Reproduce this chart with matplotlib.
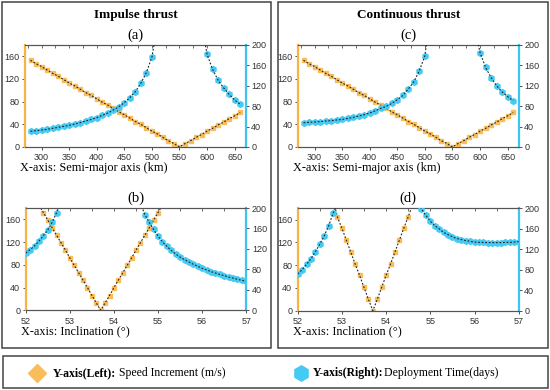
import matplotlib
matplotlib.use("Agg")
import matplotlib.pyplot as plt
from matplotlib.patches import Rectangle
from matplotlib.lines import Line2D
from matplotlib.ticker import MultipleLocator
import numpy as np

# --- data ---
sma_km = [280, 290, 300, 310, 320, 330, 340, 350, 360, 370, 380, 390, 400,
          410, 420, 430, 440, 450, 460, 470, 480, 490, 500, 510, 520, 530,
          540, 550, 560, 570, 580, 590, 600, 610, 620, 630, 640, 650, 660]

incl_deg = [52.0, 52.1, 52.2, 52.3, 52.4, 52.5, 52.6, 52.7, 52.8, 52.9,
            53.0, 53.1, 53.2, 53.3, 53.4, 53.5, 53.6, 53.7, 53.8, 53.9,
            54.0, 54.1, 54.2, 54.3, 54.4, 54.5, 54.6, 54.7, 54.8, 54.9,
            55.0, 55.1, 55.2, 55.3, 55.4, 55.5, 55.6, 55.7, 55.8, 55.9,
            56.0, 56.1, 56.2, 56.3, 56.4, 56.5, 56.6, 56.7, 56.8, 56.9, 57.0]

N = None

# (a) impulse thrust vs semi-major axis
a_dv = [153, 147, 142, 136, 130, 125, 119, 113, 108, 102, 96, 91, 85,
        79, 74, 68, 62, 57, 51, 45, 40, 34, 28, 23, 17, 11,
        6, 0, 6, 11, 17, 22, 28, 33, 39, 44, 50, 55, 61]
a_days = [30.7, 32, 33.3, 34.6, 36.6, 38.6, 40.5, 42.5, 45, 47.7, 51, 54, 57.5,
          62, 66.7, 72.5, 79, 87, 96.7, 108.5, 125, 146, 176, 240, N, N,
          N, N, N, N, N, 240, 182, 152, 131, 116, 103, 92, 84]

# (c) continuous thrust vs semi-major axis
c_dv = [153, 147, 142, 136, 130, 125, 119, 113, 108, 102, 96, 91, 85,
        79, 74, 68, 62, 57, 51, 45, 40, 34, 28, 23, 17, 11,
        6, 0, 6, 11, 17, 22, 28, 33, 39, 44, 50, 55, 61]
c_days = [47.7, 48.4, 49, 49.7, 51, 51.6, 53, 54, 56, 58, 60.8, 63.4, 66.7,
          71, 75.8, 79.7, 85.6, 92.8, 101, 113.7, 128, 149.7, 179, 260, N, N,
          N, N, N, N, N, 235, 185, 156, 136, 120, 108, 98.7, 91]

# (b) impulse thrust vs inclination
b_dv = [N, N, N, 185, 172, 159, 145, 132, 119, 106,
        92, 79, 66, 53, 40, 26, 13, 0, 13, 26,
        40, 53, 66, 79, 92, 106, 119, 132, 145, 159,
        172, 185, N, N, N, N, N, N, N, N,
        N, N, N, N, N, N, N, N, N, N, N]
b_days = [112, 118.6, 126, 135, 146, 157, 172, 191, 215, N,
          N, N, N, N, N, N, N, N, N, N,
          N, N, N, N, N, N, 210, 187, 172, 158,
          145, 134, 125, 117, 110, 104, 99, 94.5, 90, 86,
          82, 79, 75.6, 73, 70, 68, 65, 63, 60.6, 58.6, 56.7]

# (d) continuous thrust vs inclination
d_dv = [N, N, N, N, N, N, N, N, 196, 164,
        145, 124, 103, 82, 62, 41, 20, 0, 20, 41,
        62, 82, 103, 124, 145, 165, 186, N, N, N,
        N, N, N, N, N, N, N, N, N, N,
        N, N, N, N, N, N, N, N, N, N, N]
d_days = [71.7, 80, 90.5, 101.6, 115, 130, 146, 166, 190, 210,
          N, N, N, N, N, N, N, N, N, N,
          N, N, N, N, N, N, N, 215, 199, 186,
          175, 166, 160, 153, 148.5, 144.6, 141, 139, 137, 135.5,
          134, 133.5, 133.5, 133, 133, 133, 133, 133.5, 133.5, 134, 135]

ORANGE = '#F9BD5A'
ORANGE_SP = '#F7B445'
BLUE = '#45CAF3'
BLUE_SP = '#3CC5F0'
EDGE = '#444444'
SERIF = 'Liberation Serif'
SANS = 'Liberation Sans'

W, H = 550, 390


def fx(x):
    return x / W


def fy(y):
    return 1 - y / H


def to_arr(vals):
    return np.array([np.nan if v is None else v for v in vals], dtype=float)


def draw_panel(rect, x, dv, days, xlim, major, minor, tag, xlabel, title=None):
    l, t, r, b = rect
    ax = fig.add_axes([fx(l), fy(b), (r - l) / W, (b - t) / H])
    ax2 = ax.twinx()
    x = np.array(x, dtype=float)

    ax.plot(x, to_arr(dv), ls='none', marker='s', ms=3.2, color=ORANGE,
            mec=ORANGE, zorder=3)
    ax.plot(x, to_arr(dv), ls=(0, (1.6, 1.6)), lw=0.8, color='#222222', zorder=4)
    ax2.plot(x, to_arr(days), ls='none', marker='h', ms=4.2, color=BLUE,
             mec=BLUE, zorder=3)
    ax2.plot(x, to_arr(days), ls=(0, (1.6, 1.6)), lw=0.8, color='#222222', zorder=4)

    ax.set_xlim(*xlim)
    ax.set_ylim(0, 180)
    ax2.set_ylim(0, 200)
    ax.yaxis.set_major_locator(MultipleLocator(40))
    ax2.yaxis.set_major_locator(MultipleLocator(40))
    ax.xaxis.set_major_locator(MultipleLocator(major))

    for a in (ax, ax2):
        for s in ('top', 'bottom'):
            a.spines[s].set_color('#555555')
            a.spines[s].set_linewidth(0.8)
    ax.spines['left'].set_color(ORANGE_SP)
    ax.spines['left'].set_linewidth(1.6)
    ax.spines['right'].set_visible(False)
    ax2.spines['left'].set_visible(False)
    ax2.spines['right'].set_color(BLUE_SP)
    ax2.spines['right'].set_linewidth(1.6)

    ax.tick_params(axis='y', direction='out', length=2.5, width=0.6, pad=1.5,
                   labelsize=6.5, colors='#333333')
    ax2.tick_params(axis='y', direction='out', length=2.5, width=0.6, pad=1.5,
                    labelsize=6.5, colors='#333333')
    ax.tick_params(axis='x', direction='out', length=2.5, width=0.6, pad=2,
                   labelsize=6.5, colors='#333333')
    for lab in ax.get_xticklabels() + ax.get_yticklabels() + ax2.get_yticklabels():
        lab.set_family(SANS)

    sec = ax.secondary_xaxis('top')
    sec.xaxis.set_major_locator(MultipleLocator(minor))
    sec.tick_params(direction='in', length=2.2, width=0.6, labeltop=False,
                    colors='#555555')
    sec.spines['top'].set_visible(False)

    cx = (l + r) / 2
    fig.text(fx(cx), fy(t - 10), tag, ha='center', va='center',
             family=SERIF, fontsize=10.5)
    fig.text(fx(l - 5), fy(b + 21), xlabel, ha='left', va='center',
             family=SERIF, fontsize=8.8)
    if title:
        fig.text(fx(cx), fy(15), title, ha='center', va='center',
                 family=SERIF, fontsize=9.5, fontweight='bold')
    return ax


fig = plt.figure(figsize=(W / 100, H / 100), dpi=100)

# outer frames
for (x0, y0, x1, y1) in [(2, 2, 271, 348), (278, 2, 548, 348), (3, 356, 548, 388)]:
    fig.add_artist(Rectangle((fx(x0), fy(y1)), (x1 - x0) / W, (y1 - y0) / H,
                             transform=fig.transFigure, fill=False,
                             edgecolor=EDGE, lw=1.1))

draw_panel((25, 45, 245.7, 147), sma_km, a_dv, a_days, (270, 670), 50, 25,
           '(a)', 'X-axis: Semi-major axis (km)', 'Impulse thrust')
draw_panel((25.7, 208, 246.3, 310.3), incl_deg, b_dv, b_days, (52, 57), 1, 0.5,
           '(b)', 'X-axis: Inclination (°)')
draw_panel((298, 45, 518.7, 147), sma_km, c_dv, c_days, (270, 670), 50, 25,
           '(c)', 'X-axis: Semi-major axis (km)', 'Continuous thrust')
draw_panel((297.7, 208.3, 518.7, 310.7), incl_deg, d_dv, d_days, (52, 57), 1, 0.5,
           '(d)', 'X-axis: Inclination (°)')

# legend box contents
renderer = fig.canvas.get_renderer()
ly = 373
fig.add_artist(Line2D([fx(37)], [fy(ly)], marker='D', ms=9, color=ORANGE,
                      mec=ORANGE, transform=fig.transFigure))
fig.add_artist(Line2D([fx(301)], [fy(ly)], marker='h', ms=11, color=BLUE,
                      mec=BLUE, transform=fig.transFigure))
for x0, bold, rest in [(53, 'Y-axis(Left):', ' Speed Increment (m/s)'),
                       (313, 'Y-axis(Right):', 'Deployment Time(days)')]:
    tb = fig.text(fx(x0), fy(ly), bold, ha='left', va='center', family=SERIF,
                  fontsize=8.5, fontweight='bold')
    bb = tb.get_window_extent(renderer)
    fig.text(bb.x1 / fig.bbox.width, fy(ly), rest, ha='left', va='center',
             family=SERIF, fontsize=8.5)

fig.savefig('out.png', dpi=100)
